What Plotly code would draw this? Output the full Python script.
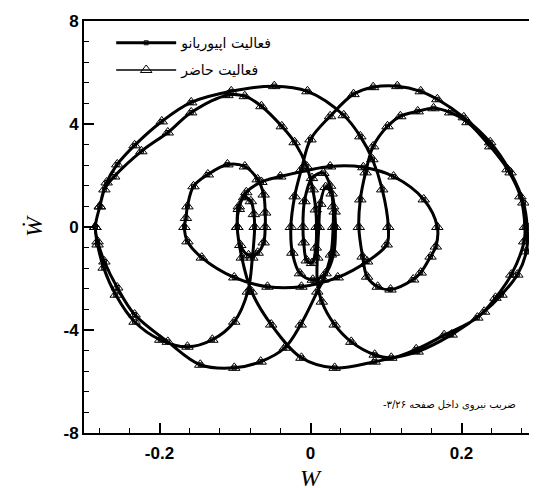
import plotly.graph_objects as go

# Upper half-loops run left -> right, lower half-loops right -> left.
u1_w = [-0.285, -0.279, -0.270, -0.256, -0.233, -0.197, -0.158, -0.105, -0.048, -0.004, 0.044, 0.066, 0.082, 0.095, 0.103]
u1_wd = [0.0, 0.80, 1.73, 2.43, 3.17, 4.10, 4.84, 5.27, 5.47, 5.27, 4.34, 3.52, 2.63, 1.46, 0.0]

d5_w = [0.101, 0.075, 0.036, -0.012, -0.057, -0.101, -0.144, -0.163, -0.167]
d5_wd = [-0.68, -1.34, -1.96, -2.32, -2.32, -1.96, -1.19, -0.56, 0.0]

u5_w = [-0.165, -0.163, -0.155, -0.136, -0.110, -0.087, -0.070, -0.062, -0.060, -0.060]
u5_wd = [0.35, 0.80, 1.58, 2.04, 2.43, 2.35, 1.85, 1.26, 0.56, 0.0]

s1_w = [-0.062, -0.070, -0.082, -0.093, -0.097]
s1_wd = [-0.60, -1.00, -1.10, -0.70, 0.0]

u6_w = [-0.095, -0.085, -0.065, -0.040, 0.026, 0.070, 0.110, 0.150, 0.168]
u6_wd = [0.80, 1.35, 1.75, 1.96, 2.35, 2.32, 1.96, 1.07, 0.0]

d6_w = [0.166, 0.159, 0.146, 0.136, 0.106, 0.089, 0.075, 0.069, 0.064]
d6_wd = [-0.76, -1.15, -1.77, -2.04, -2.43, -2.32, -1.93, -1.15, 0.0]

u4_w = [0.066, 0.073, 0.083, 0.102, 0.119, 0.142, 0.163, 0.185, 0.208, 0.238, 0.261, 0.278, 0.284]
u4_wd = [1.07, 2.12, 3.13, 3.91, 4.30, 4.49, 4.61, 4.45, 4.07, 3.13, 2.24, 1.19, 0.0]

d2_w = [0.283, 0.266, 0.245, 0.221, 0.177, 0.140, 0.107, 0.085, 0.054, 0.032, 0.015, 0.009, 0.009, 0.011]
d2_wd = [-0.56, -1.85, -2.75, -3.52, -4.20, -4.75, -5.08, -4.96, -4.46, -3.79, -2.90, -2.12, -1.19, 0.0]

s2_w = [0.013, 0.020, 0.028, 0.032, 0.033]
s2_wd = [0.90, 1.55, 1.30, 0.60, 0.0]

s3_w = [0.031, 0.020, 0.003, -0.014, -0.024, -0.026]
s3_wd = [-1.00, -1.80, -2.05, -1.80, -1.00, 0.0]

u3_w = [-0.021, -0.012, 0.000, 0.026, 0.057, 0.083, 0.115, 0.146, 0.168, 0.203, 0.238, 0.265, 0.282, 0.287]
u3_wd = [1.19, 2.24, 3.40, 4.30, 5.16, 5.43, 5.47, 5.27, 4.96, 4.26, 3.29, 2.12, 0.95, 0.0]

d1_w = [0.286, 0.274, 0.253, 0.230, 0.187, 0.142, 0.085, 0.032, -0.012, -0.052, -0.078, -0.091, -0.097]
d1_wd = [-0.95, -1.85, -2.63, -3.29, -4.18, -4.84, -5.23, -5.47, -5.08, -3.79, -2.51, -1.19, 0.0]

s4_w = [-0.095, -0.088, -0.079, -0.075, -0.074]
s4_wd = [0.70, 1.15, 1.00, 0.50, 0.0]

d4_w = [-0.077, -0.083, -0.101, -0.130, -0.163, -0.199, -0.233, -0.258, -0.274, -0.282, -0.285]
d4_wd = [-1.19, -2.51, -3.68, -4.38, -4.65, -4.38, -3.68, -2.63, -1.58, -0.68, 0.0]

u2_w = [-0.279, -0.273, -0.260, -0.224, -0.189, -0.158, -0.110, -0.087, -0.065, -0.038, -0.021, -0.005, 0.003, 0.007, 0.008]
u2_wd = [0.80, 1.46, 1.96, 2.94, 3.67, 4.45, 5.12, 5.08, 4.69, 3.91, 3.29, 2.35, 1.46, 0.68, 0.0]

s5_w = [0.007, 0.002, -0.005, -0.009, -0.010]
s5_wd = [-0.80, -1.40, -1.30, -0.60, 0.0]

s6_w = [-0.008, 0.002, 0.017, 0.026, 0.030, 0.030]
s6_wd = [1.00, 1.90, 2.10, 1.60, 0.80, 0.0]

d3_w = [0.027, 0.017, 0.009, -0.013, -0.034, -0.066, -0.101, -0.146, -0.189, -0.233, -0.256, -0.273, -0.282, -0.285]
d3_wd = [-1.07, -2.04, -2.51, -3.79, -4.69, -5.23, -5.47, -5.35, -4.46, -3.40, -2.35, -1.34, -0.56, 0.0]

x_tickvals = [-0.2, 0, 0.2]
x_ticktext = ["-0.2", "0", "0.2"]
y_tickvals = [-8, -4, 0, 4, 8]
y_ticktext = ["-8", "-4", "0", "4", "8"]

name_ref = "فعالیت اپیوریانو"
name_present = "فعالیت حاضر"
note_text = "ضریب نیروی داخل صفحه ۳/۲۶-"

order = [
    (u1_w, u1_wd), (d5_w, d5_wd), (u5_w, u5_wd), (s1_w, s1_wd), (u6_w, u6_wd),
    (d6_w, d6_wd), (u4_w, u4_wd), (d2_w, d2_wd), (s2_w, s2_wd), (s3_w, s3_wd),
    (u3_w, u3_wd), (d1_w, d1_wd), (s4_w, s4_wd), (d4_w, d4_wd), (u2_w, u2_wd),
    (s5_w, s5_wd), (s6_w, s6_wd), (d3_w, d3_wd),
]
w, wd = [], []
for a, b in order:
    w.extend(a)
    wd.extend(b)

fig = go.Figure()
fig.add_trace(go.Scatter(
    x=w, y=wd, mode="lines+markers", name=name_ref, legendgroup="ref",
    line=dict(color="black", width=3, shape="spline", smoothing=1.0),
    marker=dict(symbol="square-open", size=4, color="black", line=dict(width=1)),
))
fig.add_trace(go.Scatter(
    x=w, y=wd, mode="lines+markers", name=name_present, legendgroup="present",
    line=dict(color="black", width=1.5, shape="spline", smoothing=1.0),
    marker=dict(symbol="triangle-up-open", size=10, color="black", line=dict(width=1)),
))

title_font = dict(family="Liberation Serif", size=24, color="black", style="italic")
axis_common = dict(
    showline=True, linecolor="black", linewidth=2, automargin=False,
    ticks="inside", ticklen=10, tickwidth=2, tickcolor="black",
    showgrid=False, zeroline=False,
    tickfont=dict(family="Liberation Sans", size=17, color="black", weight="bold"),
)
fig.update_xaxes(
    range=[-0.3, 0.3], tickvals=x_tickvals, ticktext=x_ticktext,
    minor=dict(dtick=0.04, ticks="inside", ticklen=5, tickwidth=1, tickcolor="black"),
    mirror=True, ticklabelstandoff=4,
    **axis_common,
)
fig.update_yaxes(
    range=[-8, 8], tickvals=y_tickvals, ticktext=y_ticktext,
    minor=dict(dtick=0.8, ticks="inside", ticklen=5, tickwidth=1, tickcolor="black"),
    title_text="Ẇ", title_font=title_font, title_standoff=14, ticklabelstandoff=0,
    **axis_common,
)
# the page body adds an 8px margin, so the figure is sized/offset to compensate
fig.update_layout(
    width=529, height=480,
    margin=dict(l=76, r=0, t=13, b=55),
    paper_bgcolor="white", plot_bgcolor="white",
    legend=dict(
        x=0.06, y=0.985, xanchor="left", yanchor="top",
        bgcolor="rgba(0,0,0,0)", font=dict(family="DejaVu Sans", size=14, color="black"),
        itemwidth=60, tracegroupgap=6,
    ),
    annotations=[
        dict(
            x=0.958, y=0.068, xref="paper", yref="paper", xanchor="right", yanchor="middle",
            text=note_text + "\u200F", showarrow=False,
            font=dict(family="DejaVu Sans", size=10, color="black"),
        ),
        dict(
            x=0.5, y=-0.109, xref="paper", yref="paper", xanchor="center", yanchor="middle",
            text="W", showarrow=False, font=title_font,
        ),
    ],
)
fig.write_html("out.html")
